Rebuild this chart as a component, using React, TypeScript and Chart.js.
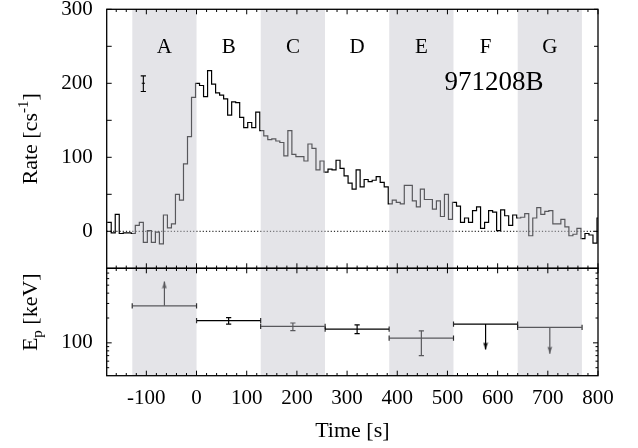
import React, { useEffect, useRef } from "react";
import { Chart, registerables } from "chart.js";

Chart.register(...registerables);

const FONT = "'Liberation Serif', 'Times New Roman', serif";

// ---- light curve (count rate, 8 s bins) ----
const BIN_START = -178;
const BIN_WIDTH = 8;
const TIME_MIN = -179;
const TIME_MAX = 800;
const RATE = [
  12, -2, 23, -3, -2, -2, -3, 8, 12, -15, 1, -15, -1, -17, 22, 4.5, 10, 50, 42, 91, 128, 181, 200,
  197, 182, 217, 199, 187, 184, 179, 157, 175, 174, 154, 140, 147, 140, 161, 136, 129, 124, 125, 122, 120, 102, 136, 104, 101,
  101, 95, 118, 112, 83, 95, 80, 84, 83, 96, 85, 75, 65, 57, 83, 60, 70, 67, 69, 74, 66, 60, 37,
  42, 39, 37, 62, 62, 41, 33, 57, 43, 43, 30, 41, 20, 50, 16, 39, 34, 12, 18, 12, 28, 33, 4, 12, 28,
  26, 1, 29, 21, 8, 22, 18, 19, 24, -6, 18, 32, 23, 27, 28, 10, 10, 16, 6, -6, -4, 4, -10, -3, -5, -16,
  18,
];

// ---- time intervals A..G ----
const INTERVAL_NAMES = ["A", "B", "C", "D", "E", "F", "G"];
const INTERVAL_EDGES = [-128, 0, 128, 256, 384, 512, 640, 768];
const INTERVAL_SHADED = [true, false, true, false, true, false, true];
const INTERVAL_LABEL_RATE = 249;

// ---- peak energy per interval ----
const EP_VALUE = [281, 186, 158, 147, 114, 169, 154];
const EP_ERR_LOW = [null, 169, 141, 129, 70, null, null];
const EP_ERR_HIGH = [null, 202, 174, 165, 140, null, null];
const EP_ARROW_TO = [552, null, null, null, null, 83, 74];

// ---- ticks ----
const TIME_TICKS = [-100, 0, 100, 200, 300, 400, 500, 600, 700, 800];
const TIME_MINOR_STEP = 20;
const RATE_TICKS = [0, 100, 200, 300];
const RATE_MINOR_TICKS = [50, 150, 250];
const EP_TICKS = [100];
const EP_MINOR_TICKS = [50, 60, 70, 80, 90, 200, 300, 400, 500, 600, 700];

// ---- annotations ----
const SAMPLE_ERR_TIME = -106;
const SAMPLE_ERR_RATE = [189, 200, 210];
const BURST_NAME = "971208B";
const BURST_NAME_TIME = 593;
const BURST_NAME_RATE = 200;

const BAND_FILL = "rgba(195,195,203,0.45)";

function makeArrowHead(): HTMLCanvasElement {
  const c = document.createElement("canvas");
  c.width = 6;
  c.height = 16;
  const g = c.getContext("2d")!;
  g.fillStyle = "#000";
  g.beginPath();
  g.moveTo(3, 8);
  g.lineTo(5.4, 15);
  g.lineTo(3, 14);
  g.lineTo(0.6, 15);
  g.closePath();
  g.fill();
  return c;
}

function drawRotatedParts(
  ctx: CanvasRenderingContext2D,
  cx: number,
  cy: number,
  parts: { text: string; size: number; dy: number }[]
) {
  ctx.save();
  ctx.translate(cx, cy);
  ctx.rotate(-Math.PI / 2);
  ctx.textAlign = "left";
  ctx.textBaseline = "alphabetic";
  ctx.fillStyle = "#000";
  let total = 0;
  const widths = parts.map((p) => {
    ctx.font = `${p.size}px ${FONT}`;
    const w = ctx.measureText(p.text).width;
    total += w;
    return w;
  });
  let xp = -total / 2;
  parts.forEach((p, i) => {
    ctx.font = `${p.size}px ${FONT}`;
    ctx.fillText(p.text, xp, p.dy);
    xp += widths[i];
  });
  ctx.restore();
}

const panelPlugin = {
  id: "panelPlugin",
  afterDatasetDraw(chart: any, args: any) {
    if (args.index !== 2) return;
    const { ctx, chartArea } = chart;
    const x = chart.scales.x;
    ctx.save();
    ctx.fillStyle = BAND_FILL;
    INTERVAL_NAMES.forEach((_, i) => {
      if (!INTERVAL_SHADED[i]) return;
      const x0 = x.getPixelForValue(INTERVAL_EDGES[i]);
      const x1 = x.getPixelForValue(INTERVAL_EDGES[i + 1]);
      ctx.fillRect(x0, chartArea.top, x1 - x0, chartArea.bottom - chartArea.top);
    });
    ctx.restore();
  },
  afterDraw(chart: any) {
    const { ctx, chartArea: ca } = chart;
    const x = chart.scales.x;
    const yR = chart.scales.yRate;
    const yE = chart.scales.yEp;
    ctx.save();
    ctx.strokeStyle = "#000";
    ctx.lineWidth = 1.3;
    [yR, yE].forEach((s: any) => {
      ctx.strokeRect(ca.left, s.top, ca.right - ca.left, s.bottom - s.top);
    });
    ctx.lineWidth = 1;
    ctx.beginPath();
    for (let t = Math.ceil(TIME_MIN / TIME_MINOR_STEP) * TIME_MINOR_STEP; t <= TIME_MAX; t += TIME_MINOR_STEP) {
      const px = x.getPixelForValue(t);
      const len = TIME_TICKS.includes(t) ? 5 : 2.7;
      [yR, yE].forEach((s: any) => {
        ctx.moveTo(px, s.top);
        ctx.lineTo(px, s.top + len);
        ctx.moveTo(px, s.bottom);
        ctx.lineTo(px, s.bottom - len);
      });
    }
    [...RATE_TICKS, ...RATE_MINOR_TICKS].forEach((v) => {
      const py = yR.getPixelForValue(v);
      ctx.moveTo(ca.left, py);
      ctx.lineTo(ca.left + 5, py);
      ctx.moveTo(ca.right, py);
      ctx.lineTo(ca.right - 4, py);
    });
    [...EP_TICKS, ...EP_MINOR_TICKS].forEach((v) => {
      const py = yE.getPixelForValue(v);
      const len = EP_TICKS.includes(v) ? 5 : 2.5;
      ctx.moveTo(ca.left, py);
      ctx.lineTo(ca.left + len, py);
      ctx.moveTo(ca.right, py);
      ctx.lineTo(ca.right - len, py);
    });
    ctx.stroke();

    ctx.fillStyle = "#000";
    ctx.textAlign = "center";
    ctx.textBaseline = "middle";
    ctx.font = `21px ${FONT}`;
    INTERVAL_NAMES.forEach((name, i) => {
      const mid = (INTERVAL_EDGES[i] + INTERVAL_EDGES[i + 1]) / 2;
      ctx.fillText(name, x.getPixelForValue(mid), yR.getPixelForValue(INTERVAL_LABEL_RATE));
    });
    ctx.font = `27px ${FONT}`;
    ctx.fillText(BURST_NAME, x.getPixelForValue(BURST_NAME_TIME), yR.getPixelForValue(BURST_NAME_RATE));

    drawRotatedParts(ctx, ca.left - 70, yR.getPixelForValue(125), [
      { text: "Rate [cs", size: 22, dy: 0 },
      { text: "-1", size: 15, dy: -9 },
      { text: "]", size: 22, dy: 0 },
    ]);
    drawRotatedParts(ctx, ca.left - 70, yE.getPixelForValue(235), [
      { text: "E", size: 22, dy: 0 },
      { text: "p", size: 15, dy: 5 },
      { text: " [keV]", size: 22, dy: 0 },
    ]);
    ctx.restore();
  },
};

const fitY = (s: any) => {
  s.width = 106.7;
  s.paddingTop = 0;
  s.paddingBottom = 0;
};

export default function App() {
  const ref = useRef<HTMLCanvasElement>(null);
  useEffect(() => {
    document.body.style.margin = "0";
    const canvas = ref.current!;
    const arrowHead = makeArrowHead();

    const ratePoints: any[] = RATE.map((v, i) => ({ x: BIN_START + i * BIN_WIDTH, y: v }));
    ratePoints.push({ x: TIME_MAX, y: RATE[RATE.length - 1] });

    const mid = (i: number) => (INTERVAL_EDGES[i] + INTERVAL_EDGES[i + 1]) / 2;
    const epBars: any[] = [];
    const epErr: any[] = [];
    const arrowsUp: any[] = [];
    const arrowsDown: any[] = [];
    INTERVAL_NAMES.forEach((_, i) => {
      epBars.push(
        { x: INTERVAL_EDGES[i], y: EP_VALUE[i] },
        { x: INTERVAL_EDGES[i + 1], y: EP_VALUE[i] },
        { x: INTERVAL_EDGES[i + 1], y: null }
      );
      if (EP_ERR_LOW[i] != null) {
        epErr.push({ x: mid(i), y: EP_ERR_LOW[i] }, { x: mid(i), y: EP_ERR_HIGH[i] }, { x: mid(i), y: null });
      }
      const tip = EP_ARROW_TO[i];
      if (tip != null) {
        const target = tip > EP_VALUE[i] ? arrowsUp : arrowsDown;
        target.push({ x: mid(i), y: EP_VALUE[i] }, { x: mid(i), y: tip }, { x: mid(i), y: null });
      }
    });

    const base = {
      type: "line" as const,
      fill: false,
      tension: 0,
      spanGaps: false,
      borderColor: "#000",
      pointBorderColor: "#000",
      pointBackgroundColor: "#000",
    };

    const chart = new Chart(canvas, {
      type: "line",
      data: {
        datasets: [
          {
            ...base,
            label: "sample error",
            yAxisID: "yRate",
            data: [
              { x: SAMPLE_ERR_TIME, y: SAMPLE_ERR_RATE[0] },
              { x: SAMPLE_ERR_TIME, y: SAMPLE_ERR_RATE[2] },
            ],
            borderWidth: 1.1,
            pointStyle: "line",
            pointRadius: 2.6,
            pointBorderWidth: 1.1,
          },
          {
            ...base,
            label: "sample centre",
            yAxisID: "yRate",
            showLine: false,
            data: [{ x: SAMPLE_ERR_TIME, y: SAMPLE_ERR_RATE[1] }],
            pointStyle: "line",
            pointRadius: 1.6,
            pointBorderWidth: 1.1,
          },
          {
            ...base,
            label: "rate",
            yAxisID: "yRate",
            data: ratePoints,
            stepped: "before",
            borderWidth: 1.2,
            pointRadius: 0,
          },
          {
            ...base,
            label: "zero",
            yAxisID: "yRate",
            data: [
              { x: TIME_MIN, y: 0 },
              { x: TIME_MAX, y: 0 },
            ],
            borderWidth: 1,
            borderDash: [1.2, 2],
            pointRadius: 0,
          },
          {
            ...base,
            label: "Ep interval",
            yAxisID: "yEp",
            data: epBars,
            borderWidth: 1.3,
            pointStyle: "line",
            pointRotation: 90,
            pointBorderWidth: 1.2,
            pointRadius: (c: any) => (c.raw && c.raw.y != null ? 2.6 : 0),
          },
          {
            ...base,
            label: "Ep error",
            yAxisID: "yEp",
            data: epErr,
            borderWidth: 1.2,
            pointStyle: "line",
            pointBorderWidth: 1.2,
            pointRadius: (c: any) => (c.raw && c.raw.y != null ? 2.6 : 0),
          },
          {
            ...base,
            label: "Ep lower limit",
            yAxisID: "yEp",
            data: arrowsUp,
            borderWidth: 1.2,
            pointStyle: arrowHead,
            pointRotation: 0,
            pointRadius: (c: any) => (c.dataIndex % 3 === 1 ? 4 : 0),
          },
          {
            ...base,
            label: "Ep upper limit",
            yAxisID: "yEp",
            data: arrowsDown,
            borderWidth: 1.2,
            pointStyle: arrowHead,
            pointRotation: 180,
            pointRadius: (c: any) => (c.dataIndex % 3 === 1 ? 4 : 0),
          },
        ] as any,
      },
      options: {
        responsive: false,
        animation: false,
        devicePixelRatio: 1,
        layout: { padding: { left: 0, top: 9.3, right: 40, bottom: 0 } },
        plugins: { legend: { display: false }, tooltip: { enabled: false } },
        scales: {
          x: {
            type: "linear",
            position: "bottom",
            min: TIME_MIN,
            max: TIME_MAX,
            grid: { display: false, drawTicks: false },
            border: { display: false },
            afterBuildTicks: (s: any) => {
              s.ticks = TIME_TICKS.map((v) => ({ value: v }));
            },
            afterFit: (s: any) => {
              s.height = 72.3;
              s.paddingLeft = 0;
              s.paddingRight = 0;
            },
            ticks: {
              color: "#000",
              padding: 10,
              maxRotation: 0,
              autoSkip: false,
              font: { family: FONT, size: 21 },
              callback: (v: any) => String(v),
            },
            title: {
              display: true,
              text: "Time [s]",
              color: "#000",
              font: { family: FONT, size: 22 },
              padding: { top: 0, bottom: 4 },
            },
          },
          yEp: {
            type: "logarithmic",
            position: "left",
            stack: "panels",
            stackWeight: 107.4,
            min: 40,
            max: 800,
            grid: { display: false, drawTicks: false },
            border: { display: false },
            afterBuildTicks: (s: any) => {
              s.ticks = EP_TICKS.map((v) => ({ value: v }));
            },
            afterFit: fitY,
            ticks: {
              color: "#000",
              padding: 14,
              autoSkip: false,
              font: { family: FONT, size: 21 },
              callback: (v: any) => String(v),
            },
          },
          yRate: {
            type: "linear",
            position: "left",
            stack: "panels",
            stackWeight: 259,
            min: -50,
            max: 300,
            grid: { display: false, drawTicks: false },
            border: { display: false },
            afterBuildTicks: (s: any) => {
              s.ticks = RATE_TICKS.map((v) => ({ value: v }));
            },
            afterFit: fitY,
            ticks: {
              color: "#000",
              padding: 14,
              autoSkip: false,
              font: { family: FONT, size: 21 },
              callback: (v: any) => String(v),
            },
          },
        } as any,
      },
      plugins: [panelPlugin],
    });
    return () => chart.destroy();
  }, []);
  return (
    <div style={{ width: 638, height: 448 }}>
      <canvas ref={ref} width={638} height={448} style={{ display: "block" }} />
    </div>
  );
}
